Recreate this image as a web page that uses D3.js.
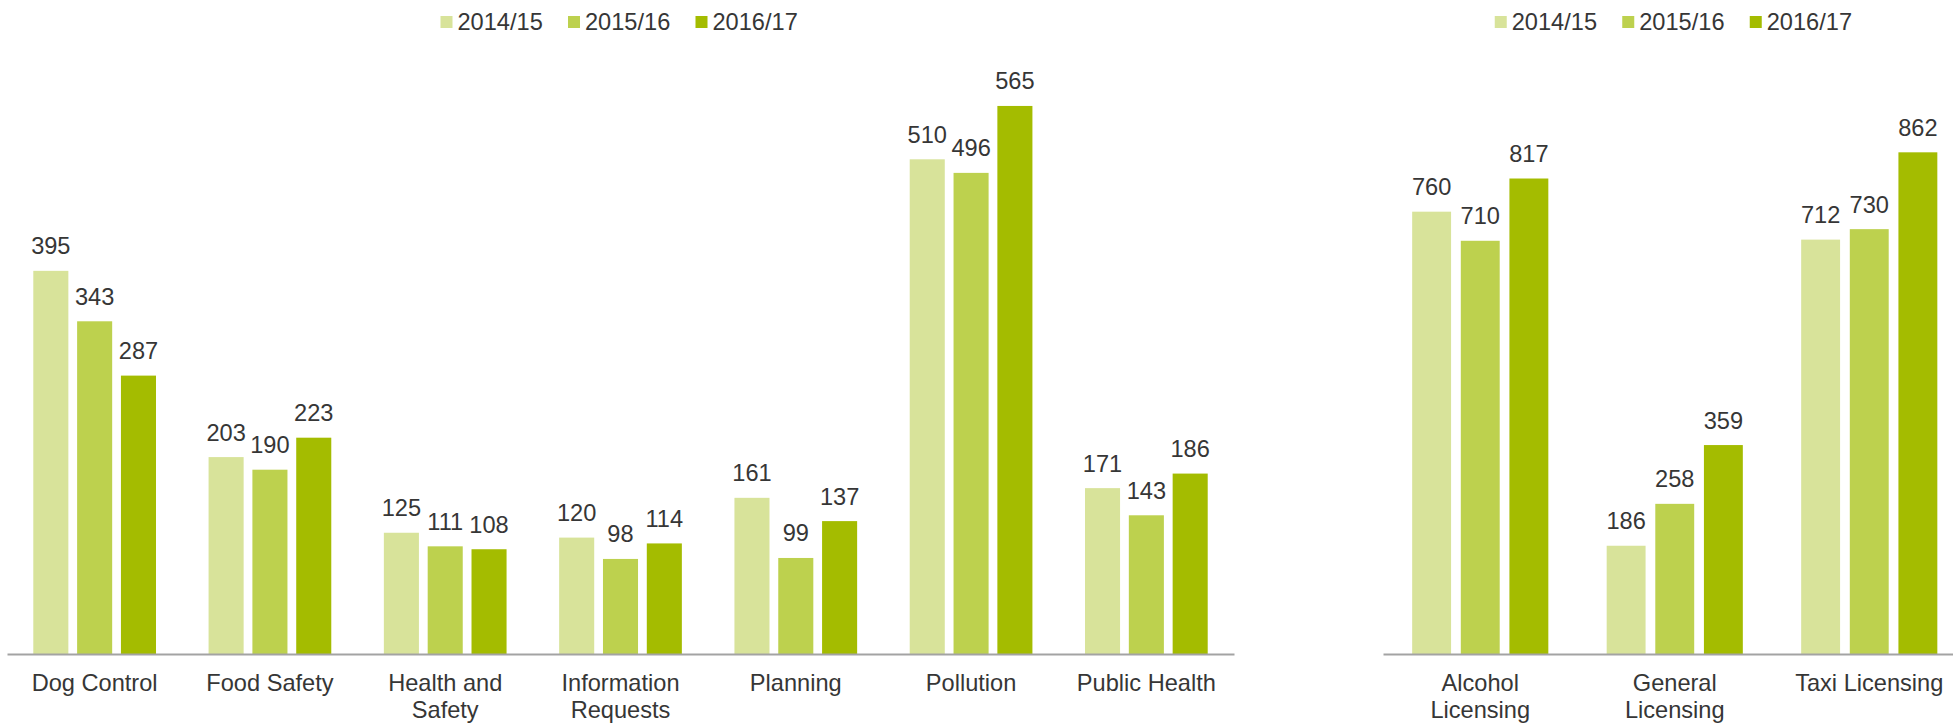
<!DOCTYPE html>
<html>
<head>
<meta charset="utf-8">
<script src="https://cdn.jsdelivr.net/npm/d3@7"></script>
<style>
  html, body { margin: 0; padding: 0; background: #ffffff; }
  svg { display: block; }
  text { font-family: "Liberation Sans", Arial, sans-serif; fill: #363636; }
</style>
</head>
<body>
<svg id="chart" width="1953" height="723"></svg>
<script>
// Financial years shown in each panel
const years = ["2014/15", "2015/16", "2016/17"];
const yearColors = ["#d8e39a", "#bdd14e", "#a4bc00"];

// Environmental services (left panel)
const serviceCategories = ["Dog Control", "Food Safety", "Health and\nSafety", "Information\nRequests", "Planning", "Pollution", "Public Health"];
const services2014 = [395, 203, 125, 120, 161, 510, 171];
const services2015 = [343, 190, 111, 98, 99, 496, 143];
const services2016 = [287, 223, 108, 114, 137, 565, 186];

// Licensing (right panel)
const licensingCategories = ["Alcohol\nLicensing", "General\nLicensing", "Taxi Licensing"];
const licensing2014 = [760, 186, 712];
const licensing2015 = [710, 258, 730];
const licensing2016 = [817, 359, 862];

const svg = d3.select("#chart");
const FONT = 23.6;
const baseY = 654, topY = 72;

function drawPanel(opts) {
  const { categories, series, maxY, x0, x1end } = opts;
  const g = svg.append("g");

  const rows = categories.map((c, i) => ({
    category: c,
    values: series.map((s, j) => ({ year: years[j], value: s[i], color: yearColors[j] }))
  }));

  const xGroup = d3.scaleBand().domain(categories).range([x0, x1end]).padding(0);
  const xBar = d3.scaleBand().domain(years).range([0, xGroup.bandwidth()])
    .paddingInner(0.2).paddingOuter(0.6);
  const y = d3.scaleLinear().domain([0, maxY]).range([baseY, topY]);

  const groups = g.selectAll("g.group").data(rows).join("g")
    .attr("class", "group")
    .attr("transform", d => `translate(${xGroup(d.category)},0)`);

  groups.selectAll("rect").data(d => d.values).join("rect")
    .attr("x", d => xBar(d.year))
    .attr("y", d => y(d.value))
    .attr("width", xBar.bandwidth())
    .attr("height", d => y(0) - y(d.value))
    .attr("fill", d => d.color);

  groups.selectAll("text.value").data(d => d.values).join("text")
    .attr("class", "value")
    .attr("x", d => xBar(d.year) + xBar.bandwidth() / 2)
    .attr("y", d => y(d.value) - 16.5)
    .attr("text-anchor", "middle")
    .style("font-size", FONT + "px")
    .text(d => d.value);

  // Category axis along the baseline
  const axis = g.append("g")
    .attr("transform", `translate(0,${baseY})`)
    .call(d3.axisBottom(xGroup).tickSize(0).tickSizeOuter(0).tickFormat(""));
  axis.select(".domain").attr("stroke", "#a3a3a3").attr("stroke-width", 2);

  axis.selectAll(".tick").each(function(d) {
    const t = d3.select(this).append("text")
      .attr("text-anchor", "middle")
      .style("font-size", FONT + "px")
      .style("fill", "#363636");
    d.split("\n").forEach((line, i) => {
      t.append("tspan").attr("x", 0).attr("y", 37 + i * 27).text(line);
    });
  });

  // Legend centred over the panel
  const legendStep = 127.5;
  const cx = (x0 + x1end) / 2;
  const legendStart = cx - 180;
  const legend = g.append("g");
  years.forEach((yr, i) => {
    const lx = legendStart + i * legendStep;
    legend.append("rect")
      .attr("x", lx).attr("y", 16).attr("width", 12).attr("height", 12)
      .attr("fill", yearColors[i]);
    legend.append("text")
      .attr("x", lx + 17).attr("y", 30)
      .style("font-size", FONT + "px")
      .text(yr);
  });
}

drawPanel({
  categories: serviceCategories,
  series: [services2014, services2015, services2016],
  maxY: 600, x0: 7, x1end: 1234
});

drawPanel({
  categories: licensingCategories,
  series: [licensing2014, licensing2015, licensing2016],
  maxY: 1000, x0: 1383, x1end: 1966.5
});
</script>
</body>
</html>
